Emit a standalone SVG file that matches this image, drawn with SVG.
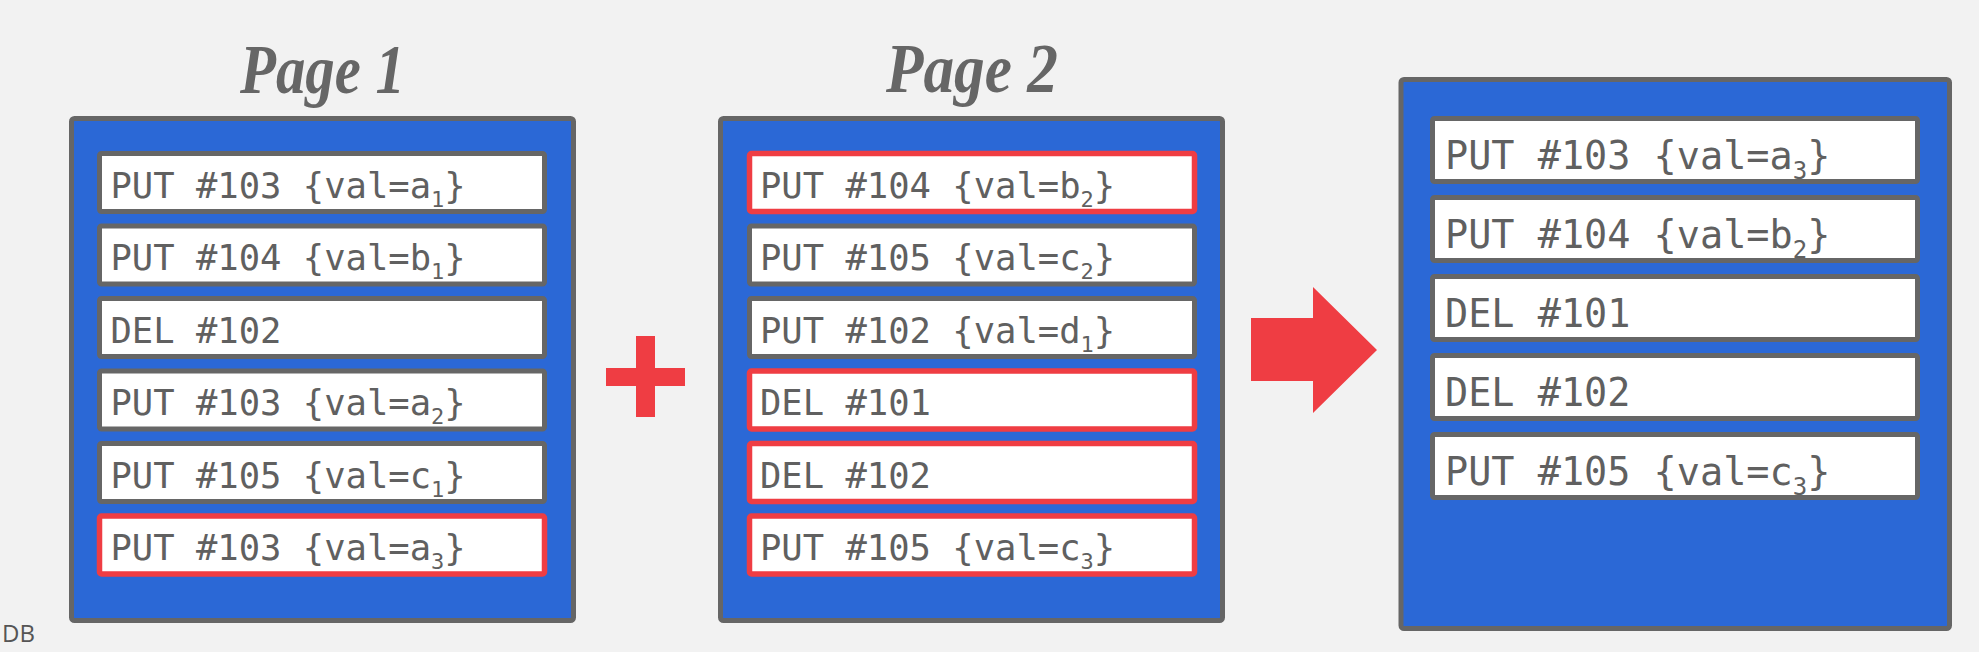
<svg xmlns="http://www.w3.org/2000/svg" width="1979" height="652" viewBox="0 0 1979 652">
<style>
.bg{fill:#f2f2f2}
.page{fill:#2b68d6;stroke:#666666;stroke-width:5;}
.entry{fill:#ffffff;stroke:#666666;stroke-width:5;}
.entry.hl{stroke:#ef3d43;stroke-width:5.5;}
.t{font-family:"DejaVu Sans Mono","Liberation Mono",monospace;font-size:35.5px;fill:#606060;}
.t2{font-family:"DejaVu Sans Mono","Liberation Mono",monospace;font-size:38.5px;fill:#606060;}
.title{font-family:"Liberation Serif","DejaVu Serif",serif;font-weight:bold;font-style:italic;font-size:70px;fill:#666666;}
.red{fill:#ef3d43;}
.logo{font-family:"Open Sans","Noto Sans",sans-serif;font-size:24px;fill:#555555;}
</style>
<rect class="bg" x="0" y="0" width="1979" height="652"/>
<text class="logo" x="2" y="642">DB</text>

<g id="page1">
<text class="title" x="240" y="93" textLength="165" lengthAdjust="spacingAndGlyphs">Page 1</text>
<rect class="page" x="71.5" y="118.5" width="502" height="502" rx="3"/>
<g id="p1e1"><rect class="entry" x="99.5" y="153.5" width="445" height="58" rx="2"/><text class="t" x="110.5" y="197.5">PUT #103 {val=a<tspan font-size="22" dy="9">1</tspan><tspan dy="-9">}</tspan></text></g>
<g id="p1e2"><rect class="entry" x="99.5" y="226" width="445" height="58" rx="2"/><text class="t" x="110.5" y="270">PUT #104 {val=b<tspan font-size="22" dy="9">1</tspan><tspan dy="-9">}</tspan></text></g>
<g id="p1e3"><rect class="entry" x="99.5" y="298.5" width="445" height="58" rx="2"/><text class="t" x="110.5" y="342.5">DEL #102</text></g>
<g id="p1e4"><rect class="entry" x="99.5" y="371" width="445" height="58" rx="2"/><text class="t" x="110.5" y="415">PUT #103 {val=a<tspan font-size="22" dy="9">2</tspan><tspan dy="-9">}</tspan></text></g>
<g id="p1e5"><rect class="entry" x="99.5" y="443.5" width="445" height="58" rx="2"/><text class="t" x="110.5" y="487.5">PUT #105 {val=c<tspan font-size="22" dy="9">1</tspan><tspan dy="-9">}</tspan></text></g>
<g id="p1e6"><rect class="entry hl" x="99.5" y="516" width="445" height="58" rx="2"/><text class="t" x="110.5" y="560">PUT #103 {val=a<tspan font-size="22" dy="9">3</tspan><tspan dy="-9">}</tspan></text></g>
</g>

<g id="plus">
<rect class="red" x="636" y="336" width="19" height="81"/>
<rect class="red" x="606" y="368" width="79" height="18"/>
</g>

<g id="page2">
<text class="title" x="886" y="92" textLength="172" lengthAdjust="spacingAndGlyphs">Page 2</text>
<rect class="page" x="720.5" y="118.5" width="502" height="502" rx="3"/>
<g id="p2e1"><rect class="entry hl" x="749.5" y="153.5" width="445" height="58" rx="2"/><text class="t" x="760" y="197.5">PUT #104 {val=b<tspan font-size="22" dy="9">2</tspan><tspan dy="-9">}</tspan></text></g>
<g id="p2e2"><rect class="entry" x="749.5" y="226" width="445" height="58" rx="2"/><text class="t" x="760" y="270">PUT #105 {val=c<tspan font-size="22" dy="9">2</tspan><tspan dy="-9">}</tspan></text></g>
<g id="p2e3"><rect class="entry" x="749.5" y="298.5" width="445" height="58" rx="2"/><text class="t" x="760" y="342.5">PUT #102 {val=d<tspan font-size="22" dy="9">1</tspan><tspan dy="-9">}</tspan></text></g>
<g id="p2e4"><rect class="entry hl" x="749.5" y="371" width="445" height="58" rx="2"/><text class="t" x="760" y="415">DEL #101</text></g>
<g id="p2e5"><rect class="entry hl" x="749.5" y="443.5" width="445" height="58" rx="2"/><text class="t" x="760" y="487.5">DEL #102</text></g>
<g id="p2e6"><rect class="entry hl" x="749.5" y="516" width="445" height="58" rx="2"/><text class="t" x="760" y="560">PUT #105 {val=c<tspan font-size="22" dy="9">3</tspan><tspan dy="-9">}</tspan></text></g>
</g>

<g id="connectors">
<polygon class="red" points="1251,318 1313,318 1313,287 1377,350 1313,413 1313,381 1251,381"/>
</g>

<g id="result">
<rect class="page" x="1401" y="79.5" width="548.5" height="549" rx="3"/>
<g id="r1"><rect class="entry" x="1432.5" y="118.5" width="485" height="63" rx="2"/><text class="t2" x="1445" y="168.5">PUT #103 {val=a<tspan font-size="24" dy="10">3</tspan><tspan dy="-10">}</tspan></text></g>
<g id="r2"><rect class="entry" x="1432.5" y="197.5" width="485" height="63" rx="2"/><text class="t2" x="1445" y="247.5">PUT #104 {val=b<tspan font-size="24" dy="10">2</tspan><tspan dy="-10">}</tspan></text></g>
<g id="r3"><rect class="entry" x="1432.5" y="276.5" width="485" height="63" rx="2"/><text class="t2" x="1445" y="326.5">DEL #101</text></g>
<g id="r4"><rect class="entry" x="1432.5" y="355.5" width="485" height="63" rx="2"/><text class="t2" x="1445" y="405.5">DEL #102</text></g>
<g id="r5"><rect class="entry" x="1432.5" y="434.5" width="485" height="63" rx="2"/><text class="t2" x="1445" y="484.5">PUT #105 {val=c<tspan font-size="24" dy="10">3</tspan><tspan dy="-10">}</tspan></text></g>
</g>
</svg>
